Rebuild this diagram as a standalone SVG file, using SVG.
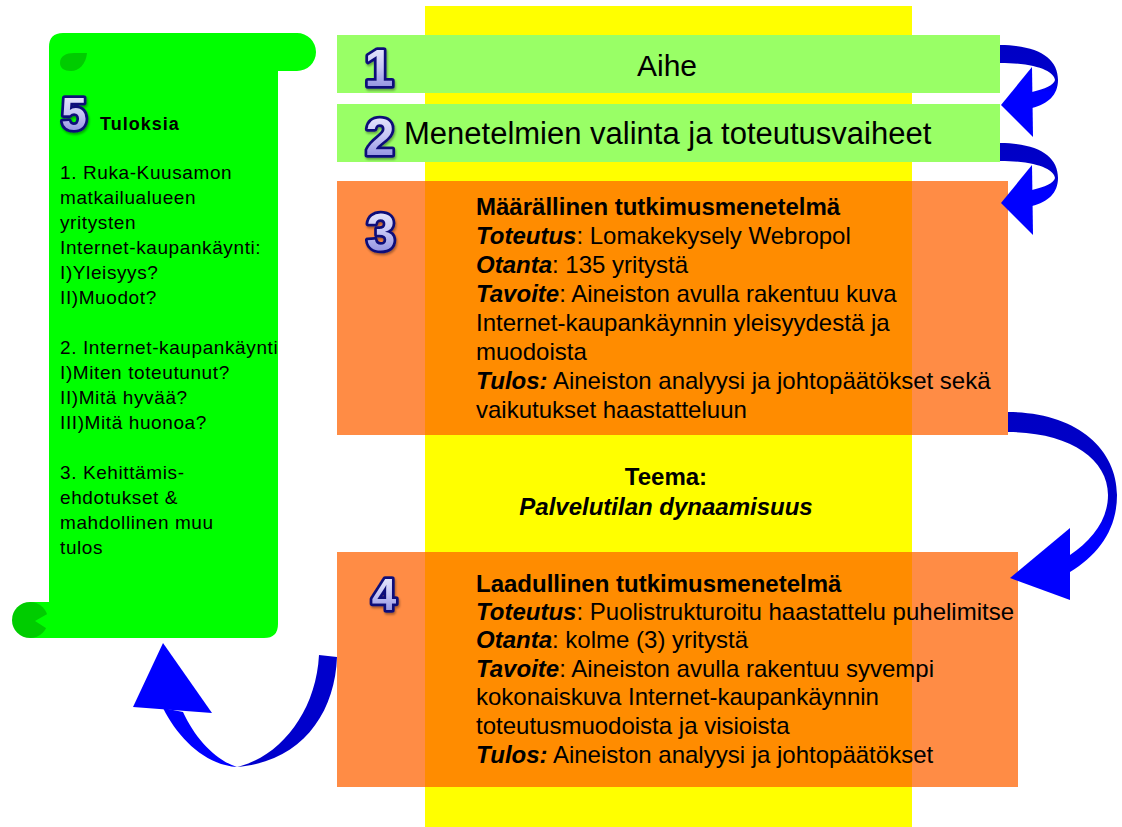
<svg xmlns="http://www.w3.org/2000/svg" width="1122" height="827" viewBox="0 0 1122 827">
<style>
.t{font-family:"Liberation Sans",Arial,sans-serif;fill:#000}
.box{font-size:24px}
.b{font-weight:bold}
.bi{font-weight:bold;font-style:italic}
.scr{font-size:19px;letter-spacing:0.6px}
.num{font-family:"Liberation Sans",Arial,sans-serif;font-weight:bold;fill:url(#numFill);stroke:#10107a;stroke-width:5.5;paint-order:stroke;stroke-linejoin:round;filter:url(#sh);text-anchor:middle}
.orange{fill:rgb(255,97,0);fill-opacity:0.73}
.lg{fill:#99ff66}
.dk{fill:#0000cc}
.br{fill:#0000ff}
</style>
<defs>
<linearGradient id="numFill" x1="0" y1="0" x2="0" y2="1">
<stop offset="0" stop-color="#f4f4ff"/>
<stop offset="0.5" stop-color="#c4c4f4"/>
<stop offset="1" stop-color="#7c7cd8"/>
</linearGradient>
<linearGradient id="bandV" x1="0" y1="0" x2="0" y2="1">
<stop offset="0" stop-color="#0000c4"/>
<stop offset="0.55" stop-color="#0000cc"/>
<stop offset="0.75" stop-color="#0000ff"/>
<stop offset="1" stop-color="#0000ff"/>
</linearGradient>
<filter id="sh" x="-20%" y="-20%" width="150%" height="150%">
<feDropShadow dx="1" dy="2" stdDeviation="1.2" flood-color="#000" flood-opacity="0.35"/>
</filter>
<clipPath id="scrollClip"><rect x="49" y="33" width="229" height="605"/></clipPath>
</defs>

<rect id="column" x="425" y="6" width="487" height="821" fill="#ffff00"/>

<g id="node5">
<path d="M49,47 Q49,33 63,33 L297,33 A19,19 0 0 1 297,71 L278,71 L278,624 Q278,638 264,638 L30,638 L30,602 L49,602 Z" fill="#00ff00"/>
<path d="M60,63 C60,56 66,53 74,53 L87,53 C86,64 79,71 71,71 C64,71 60,68 60,63 Z" fill="#00cc00"/>
<circle cx="30" cy="620" r="18" fill="#00cc00"/>
<path d="M49,613 L35,621 L49,630 Z" fill="#00ff00"/>
<text class="num" x="74" y="130" font-size="46">5</text>
<text class="t b" x="100" y="130" font-size="18" letter-spacing="1">Tuloksia</text>
<g clip-path="url(#scrollClip)">
<text class="t scr" x="60" y="179">1. Ruka-Kuusamon</text>
<text class="t scr" x="60" y="204">matkailualueen</text>
<text class="t scr" x="60" y="229">yritysten</text>
<text class="t scr" x="60" y="254">Internet-kaupankäynti:</text>
<text class="t scr" x="60" y="279">I)Yleisyys?</text>
<text class="t scr" x="60" y="304">II)Muodot?</text>
<text class="t scr" x="60" y="354">2. Internet-kaupankäynti</text>
<text class="t scr" x="60" y="379">I)Miten toteutunut?</text>
<text class="t scr" x="60" y="404">II)Mitä hyvää?</text>
<text class="t scr" x="60" y="429">III)Mitä huonoa?</text>
<text class="t scr" x="60" y="479">3. Kehittämis-</text>
<text class="t scr" x="60" y="504">ehdotukset &amp;</text>
<text class="t scr" x="60" y="529">mahdollinen muu</text>
<text class="t scr" x="60" y="554">tulos</text>
</g>
</g>

<g id="node1">
<rect class="lg" x="337" y="35" width="663" height="58"/>
<text class="num" x="379" y="86" font-size="52">1</text>
<text class="t" x="667" y="76" font-size="30" text-anchor="middle">Aihe</text>
</g>

<g id="node2">
<rect class="lg" x="337" y="104" width="663" height="58"/>
<text class="num" x="380" y="155" font-size="52">2</text>
<text class="t" x="404" y="144" font-size="31">Menetelmien valinta ja toteutusvaiheet</text>
</g>

<g id="node3">
<rect class="orange" x="337" y="181" width="671" height="254"/>
<text class="num" x="381" y="250" font-size="52">3</text>
<text class="t box" x="476" y="215"><tspan class="b">Määrällinen tutkimusmenetelmä</tspan></text>
<text class="t box" x="476" y="244"><tspan class="bi">Toteutus</tspan>: Lomakekysely Webropol</text>
<text class="t box" x="476" y="273"><tspan class="bi">Otanta</tspan>: 135 yritystä</text>
<text class="t box" x="476" y="302"><tspan class="bi">Tavoite</tspan>: Aineiston avulla rakentuu kuva</text>
<text class="t box" x="476" y="331">Internet-kaupankäynnin yleisyydestä ja</text>
<text class="t box" x="476" y="360">muodoista</text>
<text class="t box" x="476" y="389"><tspan class="bi">Tulos:</tspan> Aineiston analyysi ja johtopäätökset sekä</text>
<text class="t box" x="476" y="418">vaikutukset haastatteluun</text>
</g>

<g id="theme">
<text class="t b" x="666" y="485" font-size="24" text-anchor="middle">Teema:</text>
<text class="t bi" x="666" y="515" font-size="24" text-anchor="middle">Palvelutilan dynaamisuus</text>
</g>

<g id="node4">
<rect class="orange" x="337" y="552" width="681" height="235"/>
<text class="num" x="384" y="610" font-size="44">4</text>
<text class="t box" x="476" y="592"><tspan class="b">Laadullinen tutkimusmenetelmä</tspan></text>
<text class="t box" x="476" y="620"><tspan class="bi">Toteutus</tspan>: Puolistrukturoitu haastattelu puhelimitse</text>
<text class="t box" x="476" y="648"><tspan class="bi">Otanta</tspan>: kolme (3) yritystä</text>
<text class="t box" x="476" y="677"><tspan class="bi">Tavoite</tspan>: Aineiston avulla rakentuu syvempi</text>
<text class="t box" x="476" y="705">kokonaiskuva Internet-kaupankäynnin</text>
<text class="t box" x="476" y="734">toteutusmuodoista ja visioista</text>
<text class="t box" x="476" y="763"><tspan class="bi">Tulos:</tspan> Aineiston analyysi ja johtopäätökset</text>
</g>

<g id="connectors">
<g id="arrow1to2">
<path d="M1000,45 C1038,45 1058,58 1058,80 C1058,95 1048,104 1032,108 L1032,92 C1045,89 1054,85 1055,80 C1054,72 1038,63 1000,63 Z" fill="url(#bandV)"/>
<polygon class="br" points="1001,105 1032,67 1033,137"/>
</g>
<g id="arrow2to3" transform="translate(0,98)">
<path d="M1000,45 C1038,45 1058,58 1058,80 C1058,95 1048,104 1032,108 L1032,92 C1045,89 1054,85 1055,80 C1054,72 1038,63 1000,63 Z" fill="url(#bandV)"/>
<polygon class="br" points="1001,105 1032,67 1033,137"/>
</g>
<g id="arrow3to4">
<path d="M1008,412 C1075,412 1117,448 1117,495 C1117,530 1098,555 1070,572 L1070,555 C1092,540 1108,520 1108,495 C1108,458 1068,432 1008,432 Z" fill="url(#bandV)"/>
<polygon class="br" points="1010,578 1070,528 1070,600"/>
</g>
<g id="arrow4to5">
<path class="dk" d="M319,655 L337,657 C335,715 300,762 237,767 C280,757 316,712 319,655 Z"/>
<path class="br" d="M237,767 C205,765 178,738 163,708 L183,712 C195,738 215,760 237,767 Z"/>
<polygon class="br" points="163,643 133,707 212,713"/>
</g>
</g>
</svg>
